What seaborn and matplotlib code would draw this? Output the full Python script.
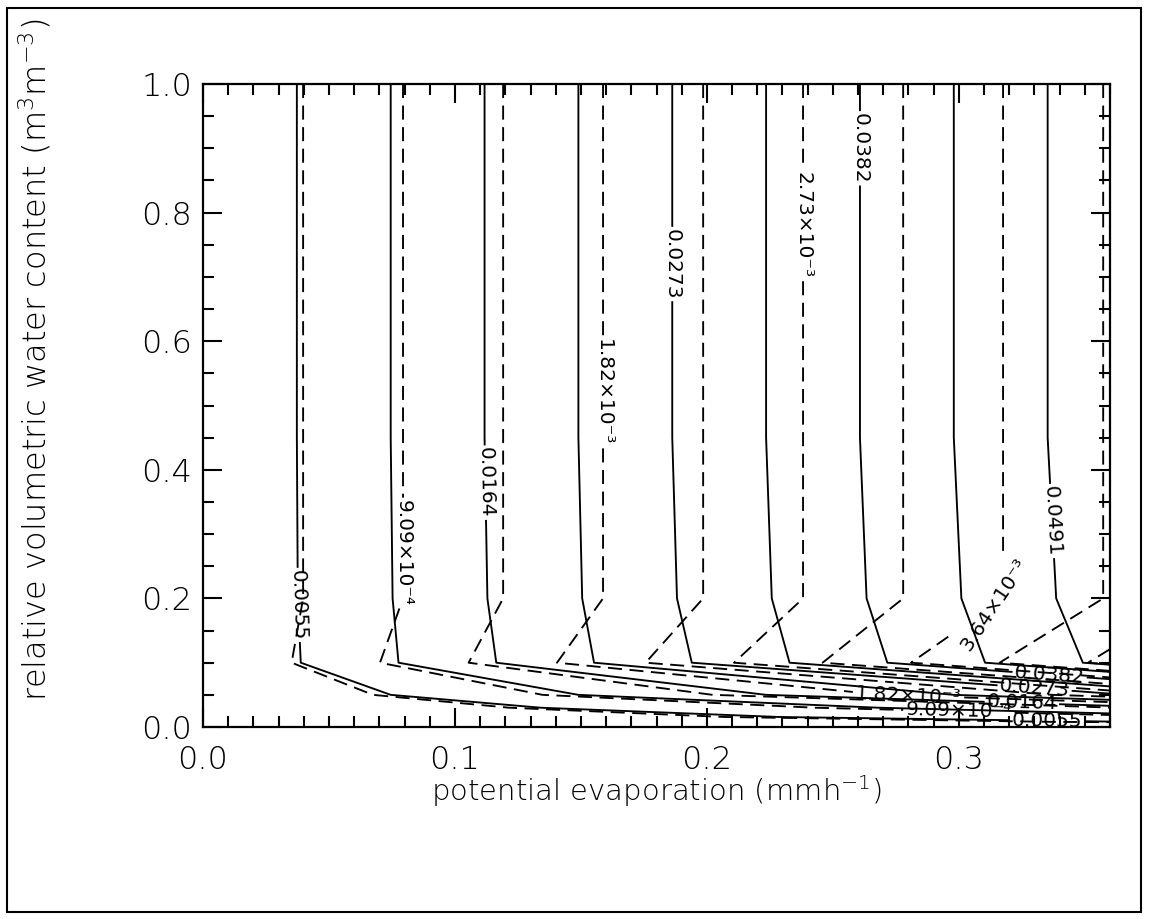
import numpy as np
import matplotlib
matplotlib.use("Agg")
import matplotlib.pyplot as plt
import seaborn as sns
from matplotlib.ticker import MultipleLocator, FormatStrFormatter
from matplotlib.patches import Rectangle

# ---------------- data ----------------
# grid nodes (potential evaporation, relative water content)
x_nodes = [0.0, 0.36]
y_nodes = [0.0, 0.008, 0.0156, 0.03, 0.05, 0.10, 0.20, 0.45, 1.00]
# relative factor of each field at every water-content node
solid_factor = [0.0, 0.100, 0.163, 0.278, 0.500, 0.960, 0.990, 1.000, 1.000]
dashed_factor = [0.0, 0.118, 0.192, 0.327, 0.589, 1.130, 1.000, 1.000, 1.000]
# field value per unit potential evaporation where factor = 1
solid_scale = 0.14643
dashed_scale = 0.011450

solid_levels = [0.005455, 0.010909, 0.016364, 0.021818, 0.027273,
                0.032727, 0.038182, 0.043636, 0.049091]
dashed_levels = [0.000455, 0.000909, 0.001364, 0.001818, 0.002273,
                 0.002727, 0.003182, 0.003636, 0.004091, 0.004545]

solid_label_levels = [0.005455, 0.016364, 0.027273, 0.038182, 0.049091]
solid_label_text = ["0.0055", "0.0164", "0.0273", "0.0382", "0.0491"]
dashed_label_levels = [0.000909, 0.001818, 0.002727, 0.003636]
dashed_label_text = ["9.09×10\u207b\u2074", "1.82×10\u207b\u00b3",
                     "2.73×10\u207b\u00b3", "3.64×10\u207b\u00b3"]

# label positions (data coordinates)
solid_label_pos = [(0.0389, 0.19), (0.112, 0.38), (0.187, 0.72),
                   (0.2616, 0.90), (0.3355, 0.32),
                   (0.336, 0.080), (0.330, 0.057), (0.325, 0.036), (0.335, 0.0095)]
dashed_label_pos = [(0.0794, 0.27), (0.1587, 0.52), (0.238, 0.78),
                    (0.314, 0.19),
                    (0.275, 0.075), (0.280, 0.048), (0.300, 0.023)]

xlabel = "potential evaporation (mmh$^{-1}$)"
ylabel = "relative volumetric water content (m$^{3}$m$^{-3}$)"

# ---------------- style ----------------
sns.set_style("ticks")
plt.rcParams["font.family"] = ["DejaVu Sans"]
plt.rcParams["font.weight"] = 200
plt.rcParams["axes.labelweight"] = 200
plt.rcParams["mathtext.fontset"] = "custom"
plt.rcParams["mathtext.rm"] = "DejaVu Sans:weight=200"
plt.rcParams["mathtext.it"] = "DejaVu Sans:weight=200"
plt.rcParams["mathtext.sf"] = "DejaVu Sans:weight=200"
plt.rcParams["mathtext.default"] = "rm"
plt.rcParams["lines.dashed_pattern"] = [7.5, 4.0]
for key in ["text.color", "axes.labelcolor", "xtick.color", "ytick.color",
            "axes.edgecolor"]:
    plt.rcParams[key] = "black"
plt.rcParams["axes.linewidth"] = 1.6

fig = plt.figure(figsize=(11.49, 9.19), dpi=100)
fig.patch.set_facecolor("white")
ax = fig.add_axes([203 / 1149, 1 - 727 / 919, 907 / 1149, 643 / 919])

xs = np.asarray(x_nodes)
Zs = solid_scale * np.outer(solid_factor, xs)
Zd = dashed_scale * np.outer(dashed_factor, xs)

cs = ax.contour(xs, y_nodes, Zs, levels=solid_levels, colors="black",
                linewidths=1.35, linestyles="solid")
cd = ax.contour(xs, y_nodes, Zd, levels=dashed_levels, colors="black",
                linewidths=1.35, linestyles="dashed")

solid_fmt = {lv: "" for lv in cs.levels}
for lv, t in zip(solid_label_levels, solid_label_text):
    solid_fmt[min(cs.levels, key=lambda v: abs(v - lv))] = t
dashed_fmt = {lv: "" for lv in cd.levels}
for lv, t in zip(dashed_label_levels, dashed_label_text):
    dashed_fmt[min(cd.levels, key=lambda v: abs(v - lv))] = t

lab_font = 14.5
t1 = ax.clabel(cs, fmt=solid_fmt, manual=solid_label_pos, inline=True,
               inline_spacing=2, fontsize=lab_font, colors="black")
t2 = ax.clabel(cd, fmt=dashed_fmt, manual=dashed_label_pos, inline=True,
               inline_spacing=2, fontsize=lab_font, colors="black")
for t in list(t1) + list(t2):
    t.set_fontweight("normal")
    t.set_color("black")
    if 75 < t.get_rotation() < 105:
        t.set_rotation(270)

ax.set_xlim(0.0, 0.36)
ax.set_ylim(0.0, 1.0)
ax.xaxis.set_major_locator(MultipleLocator(0.1))
ax.xaxis.set_minor_locator(MultipleLocator(0.01))
ax.yaxis.set_major_locator(MultipleLocator(0.2))
ax.yaxis.set_minor_locator(MultipleLocator(0.05))
ax.xaxis.set_major_formatter(FormatStrFormatter("%.1f"))
ax.yaxis.set_major_formatter(FormatStrFormatter("%.1f"))
ax.tick_params(which="both", direction="in", top=True, right=True,
               colors="black", width=1.5)
ax.tick_params(which="major", length=14, labelsize=23)
ax.tick_params(which="minor", length=8)
ax.tick_params(axis="x", which="major", pad=13)
ax.tick_params(axis="y", which="major", pad=8)
for s in ax.spines.values():
    s.set_visible(True)
    s.set_linewidth(1.6)

ax.set_xlabel(xlabel, fontsize=21, fontweight=200)
ax.set_ylabel(ylabel, fontsize=23, fontweight=200)
ax.xaxis.set_label_coords(0.5, -0.072)
ax.yaxis.set_label_coords(-0.165, 0.571)

fig.patches.append(Rectangle((7 / 1149, 7 / 919), 1134 / 1149, 904 / 919,
                             transform=fig.transFigure, fill=False,
                             edgecolor="black", linewidth=1.5))

fig.savefig("out.png", dpi=100, facecolor="white")
